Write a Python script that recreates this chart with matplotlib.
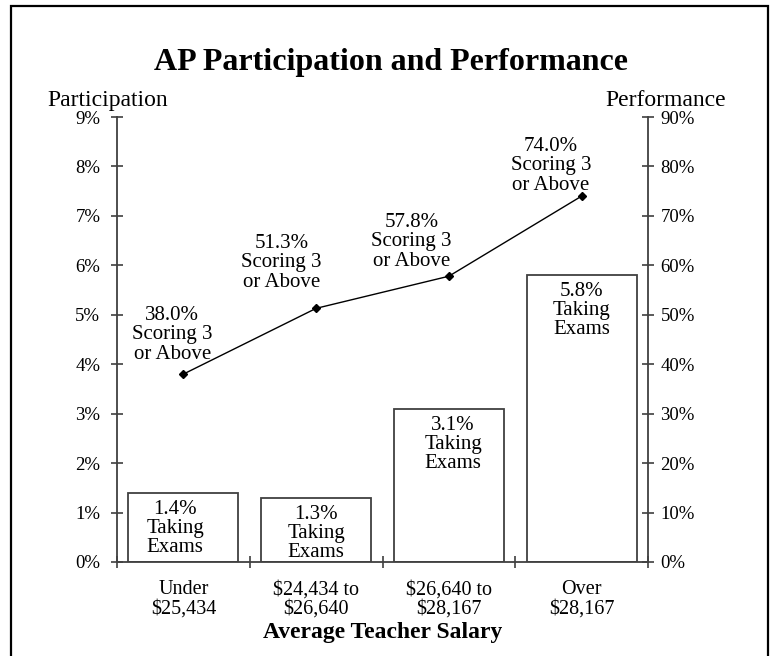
import matplotlib
matplotlib.use('Agg')
import matplotlib.pyplot as plt
from matplotlib.patches import Rectangle
from matplotlib.ticker import FuncFormatter, FixedLocator
import numpy as np

plt.rcParams['font.family'] = ['Liberation Serif', 'DejaVu Serif']

# data
categories = ['Under\n$25,434', '$24,434 to\n$26,640', '$26,640 to\n$28,167', 'Over\n$28,167']
taking = [1.4, 1.3, 3.1, 5.8]       # % taking AP exams (left axis)
scoring = [38.0, 51.3, 57.8, 74.0]  # % scoring 3 or above (right axis)
left_ticks = list(range(0, 10))
right_ticks = list(range(0, 100, 10))

# label nudges (points), the labels in the original were placed by hand
score_offsets = [(-8, 7.5), (-25, 12), (-27, 4), (-22, 1)]
bar_offsets = [(-6, -5), (0, -5), (3, -5), (0, -5)]

W, H = 772, 656
fig = plt.figure(figsize=(W / 100, H / 100), dpi=100)

# border around the whole figure
fig.patches.append(Rectangle((11 / W, -0.02), (768 - 11) / W, 1.02 - 6 / H,
                             transform=fig.transFigure, fill=False,
                             edgecolor='black', linewidth=1.6))

ax = fig.add_axes([117 / W, 1 - 562 / H, (648 - 117) / W, (562 - 117) / H])
x = np.arange(len(categories))
edge = '#404040'

bars = ax.bar(x, taking, width=0.83, color='white', edgecolor=edge, linewidth=1.3, zorder=2)
for xi, v, off in zip(x, taking, bar_offsets):
    ax.annotate('%.1f%%\nTaking\nExams' % v, (xi, v), xytext=off, textcoords='offset points',
                ha='center', va='top', fontsize=15, linespacing=1.0, zorder=3)

ax.set_xlim(-0.5, len(categories) - 0.5)
ax.set_ylim(0, 9)
ax.set_yticks(left_ticks)
ax.yaxis.set_major_formatter(FuncFormatter(lambda v, p: '%d%%' % v))
ax.set_xticks(x)
ax.set_xticklabels(categories, fontsize=14.5, linespacing=1.0)
ax.xaxis.set_minor_locator(FixedLocator(np.arange(-0.5, len(categories), 1.0)))
ax.tick_params(axis='x', which='major', length=0, pad=13)
ax.tick_params(axis='x', which='minor', direction='inout', length=8, color=edge, width=1.2)
ax.tick_params(axis='y', direction='inout', length=8, color=edge, width=1.2, labelsize=13.5, pad=8)
ax.set_xlabel('Average Teacher Salary', fontsize=17, fontweight='bold', labelpad=3)

for s in ['top', 'right']:
    ax.spines[s].set_visible(False)
for s in ['left', 'bottom']:
    ax.spines[s].set_color(edge)
    ax.spines[s].set_linewidth(1.3)

ax2 = ax.twinx()
ax2.set_ylim(0, 90)
ax2.set_yticks(right_ticks)
ax2.yaxis.set_major_formatter(FuncFormatter(lambda v, p: '%d%%' % v))
ax2.tick_params(axis='y', direction='inout', length=8, color=edge, width=1.2, labelsize=13.5, pad=5)
for s in ['top', 'left', 'bottom']:
    ax2.spines[s].set_visible(False)
ax2.spines['right'].set_color(edge)
ax2.spines['right'].set_linewidth(1.3)

ax2.plot(x, scoring, color='black', linewidth=1, marker='D', markersize=4.5, zorder=4)
for xi, v, off in zip(x, scoring, score_offsets):
    ax2.annotate('%.1f%%\nScoring 3\nor Above' % v, (xi, v), xytext=off, textcoords='offset points',
                 ha='center', va='bottom', fontsize=15, linespacing=1.03)

fig.text(391.5 / W, 1 - 70 / H, 'AP Participation and Performance', ha='center', va='baseline',
         fontsize=23, fontweight='bold')
fig.text(107.5 / W, 1 - 106 / H, 'Participation', ha='center', va='baseline', fontsize=17)
fig.text(666 / W, 1 - 106 / H, 'Performance', ha='center', va='baseline', fontsize=17)

fig.savefig('out.png', dpi=100)
